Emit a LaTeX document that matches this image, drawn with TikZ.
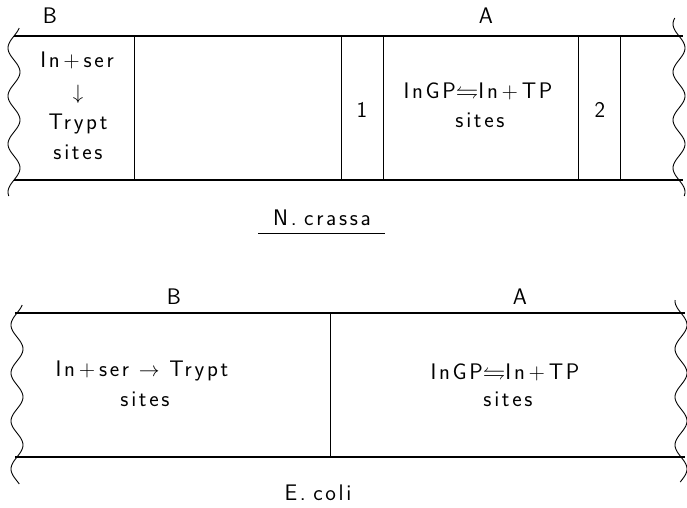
\documentclass[tikz,border=0pt]{standalone}
\usepackage{amsmath,amssymb}
\usepackage{fontspec}
\newfontfamily\lettering{Latin Modern Sans}[LetterSpace=12]
\begin{document}
\begin{tikzpicture}[x=1pt,y=-1pt,
  line/.style={line width=1.1pt},
  thin line/.style={line width=0.8pt},
  wave/.style={line width=0.9pt},
  lbl/.style={font=\lettering\fontsize{22.5}{26}\selectfont, inner sep=0pt, align=center}]
\useasboundingbox (0,0) rectangle (687,507);
% ---------- N. crassa strip ----------
\draw[line] (14,36) -- (683,36);
\draw[line] (14,180) -- (683,180);
\foreach \x in {134,341,383,578,620} \draw[thin line] (\x,36) -- (\x,180);
\draw[wave,domain=28:196,samples=120,variable=\t] plot ({14-6*sin((\t-36)/48*360)},\t);
\draw[wave,domain=18:196,samples=120,variable=\t] plot ({679+6*sin((\t-36)/48*360)},\t);
\node[lbl] (B1) at (50,16) {B};
\node[lbl] (A1) at (486,16) {A};
\node[lbl] (s1) at (77,60) {In\,+\,ser};
\node[lbl] (ar1) at (78,94) {$\downarrow$};
\node[lbl] (t1) at (78,124) {Trypt};
\node[lbl] (st1) at (78,152) {sites};
\node[lbl] (n1) at (362,110) {1};
\node[lbl] (r1) at (478,91) {InGP$\leftrightharpoons$In\,+\,TP};
\node[lbl] (st2) at (480,120) {sites};
\node[lbl] (n2) at (600,110) {2};
\node[lbl] (nc) at (322,218) {N.\,\,crassa};
\draw[thin line] (258,233) -- (385,233);
% ---------- E. coli strip ----------
\draw[line] (15,313) -- (685,313);
\draw[line] (15,457) -- (685,457);
\draw[thin line] (330,313) -- (330,457);
\draw[wave,domain=305:484,samples=120,variable=\t] plot ({17-6*sin((\t-313)/48*360)},\t);
\draw[wave,domain=300:482,samples=120,variable=\t] plot ({681+6*sin((\t-313)/48*360)},\t);
\node[lbl] (B2) at (174,297) {B};
\node[lbl] (A2) at (520,297) {A};
\node[lbl] (r2) at (142,371) {In\,+\,ser $\rightarrow$ Trypt};
\node[lbl] (st3) at (145,399) {sites};
\node[lbl] (r3) at (505,372) {InGP$\leftrightharpoons$In\,+\,TP};
\node[lbl] (st4) at (508,399) {sites};
\node[lbl] (ec) at (318,493) {E.\,\,coli};
\end{tikzpicture}
\end{document}
